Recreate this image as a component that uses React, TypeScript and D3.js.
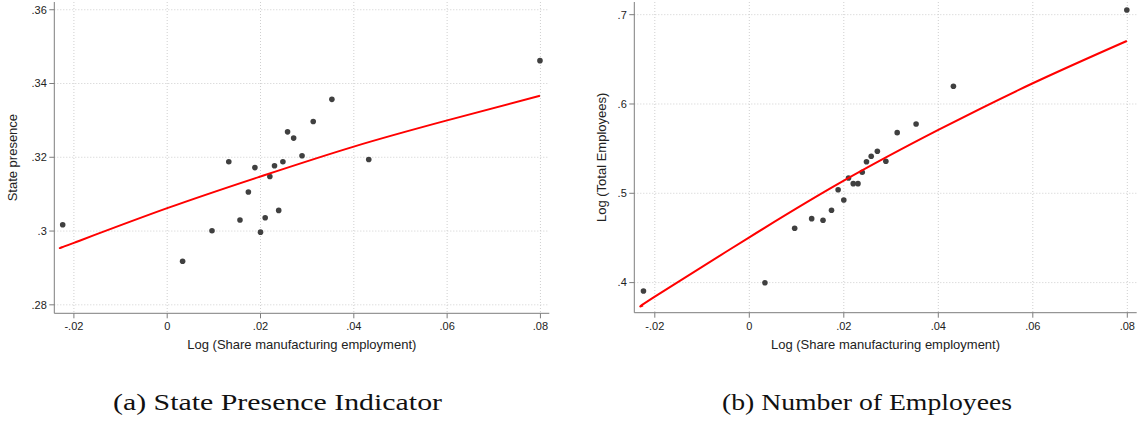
import React from "react";
import * as d3 from "d3";

// Shared x values: Log (Share manufacturing employment)
const shareMfg = [-0.0224, 0.0033, 0.0096, 0.0132, 0.0156, 0.0174, 0.0188, 0.02, 0.021, 0.022, 0.023, 0.0239, 0.0248, 0.0258, 0.0271, 0.0289, 0.0313, 0.0353, 0.0432, 0.0799];
// Panel (a): State presence
const statePresence = [0.3017, 0.2918, 0.3001, 0.3188, 0.303, 0.3106, 0.3172, 0.2997, 0.3036, 0.3148, 0.3177, 0.3056, 0.3188, 0.3269, 0.3252, 0.3204, 0.3297, 0.3357, 0.3194, 0.3462];
// Panel (b): Log (Total Employees)
const logEmployees = [0.3906, 0.3999, 0.4608, 0.4716, 0.4698, 0.481, 0.504, 0.4925, 0.5171, 0.5108, 0.5108, 0.5235, 0.5354, 0.5414, 0.547, 0.5358, 0.5679, 0.5776, 0.6198, 0.7053];

// Fitted curves
const fitXLeft = [-0.0224, -0.02, 0, 0.02, 0.04, 0.06, 0.0799];
const fitYLeft = [0.2957, 0.2968, 0.3062, 0.3148, 0.3229, 0.33, 0.3367];
const fitXRight = [-0.0225, -0.02, 0, 0.02, 0.04, 0.06, 0.0799];
const fitYRight = [0.3746, 0.3842, 0.4507, 0.5141, 0.5709, 0.6232, 0.6706];

const xTicks = [-0.02, 0, 0.02, 0.04, 0.06, 0.08];
const yTicksLeft = [0.28, 0.3, 0.32, 0.34, 0.36];
const yTicksRight = [0.4, 0.5, 0.6, 0.7];

const xTitle = "Log (Share manufacturing employment)";
const yTitleLeft = "State presence";
const yTitleRight = "Log (Total Employees)";
const captionLeft = "(a) State Presence Indicator";
const captionRight = "(b) Number of Employees";

const fmt = (v: number) => (v === 0 ? "0" : String(v).replace("0.", "."));

const AXIS = "#7d7d7d";
const GRID = "#cfcfcf";
const DOT = "#404040";
const SANS = "'Liberation Sans', Arial, Helvetica, sans-serif";

type PanelProps = {
  xDomain: [number, number];
  xRange: [number, number];
  yDomain: [number, number];
  yRange: [number, number];
  yTicks: number[];
  ys: number[];
  fitX: number[];
  fitY: number[];
  yTitle: string;
  yTitleX: number;
  caption: string;
  captionX: number;
  captionWidth: number;
};

function Panel(p: PanelProps) {
  const x = d3.scaleLinear().domain(p.xDomain).range(p.xRange);
  const y = d3.scaleLinear().domain(p.yDomain).range(p.yRange);
  const [x0, x1] = p.xRange;
  const [yb, yt] = p.yRange;
  const line = d3
    .line<number>()
    .x((_, i) => x(p.fitX[i]))
    .y((d) => y(d))
    .curve(d3.curveNatural);
  const midX = (x0 + x1) / 2;
  const midY = (yb + yt) / 2;
  return (
    <g>
      {/* grid */}
      {p.yTicks.map((t) => (
        <line key={"gy" + t} x1={x0} x2={x1} y1={y(t)} y2={y(t)} stroke={GRID} strokeWidth={1} strokeDasharray="1 2" />
      ))}
      {xTicks.map((t) => (
        <line key={"gx" + t} x1={x(t)} x2={x(t)} y1={yt} y2={yb} stroke={GRID} strokeWidth={1} strokeDasharray="1 2" />
      ))}
      {/* axes */}
      <line x1={x0} x2={x0} y1={yt} y2={yb} stroke={AXIS} strokeWidth={1} />
      <line x1={x0} x2={x1} y1={yb} y2={yb} stroke={AXIS} strokeWidth={1} />
      {p.yTicks.map((t) => (
        <g key={"ty" + t}>
          <line x1={x0 - 5} x2={x0} y1={y(t)} y2={y(t)} stroke={AXIS} strokeWidth={1} />
          <text x={x0 - 7.5} y={y(t)} dy="0.35em" textAnchor="end" fontFamily={SANS} fontSize={11} fill="#222">
            {fmt(t)}
          </text>
        </g>
      ))}
      {xTicks.map((t) => (
        <g key={"tx" + t}>
          <line x1={x(t)} x2={x(t)} y1={yb} y2={yb + 5} stroke={AXIS} strokeWidth={1} />
          <text x={x(t)} y={yb + 17} textAnchor="middle" fontFamily={SANS} fontSize={11} fill="#222">
            {fmt(t)}
          </text>
        </g>
      ))}
      {/* titles */}
      <text x={midX} y={349} textAnchor="middle" fontFamily={SANS} fontSize={13} fill="#222">
        {xTitle}
      </text>
      <text
        transform={`translate(${p.yTitleX},${midY}) rotate(-90)`}
        textAnchor="middle"
        fontFamily={SANS}
        fontSize={13}
        fill="#222"
      >
        {p.yTitle}
      </text>
      {/* points */}
      {shareMfg.map((v, i) => (
        <circle key={"p" + i} cx={x(v)} cy={y(p.ys[i])} r={2.8} fill={DOT} />
      ))}
      {/* fit */}
      <path d={line(p.fitY) || ""} fill="none" stroke="#ff0000" strokeWidth={2} />
      {/* caption */}
      <text
        x={p.captionX}
        y={410}
        textAnchor="middle"
        fontFamily="'Liberation Serif', 'Times New Roman', serif"
        fontSize={24}
        fill="#111"
        textLength={p.captionWidth}
        lengthAdjust="spacingAndGlyphs"
      >
        {p.caption}
      </text>
    </g>
  );
}

export default function App() {
  return (
    <svg
      width={1140}
      height={421}
      style={{ position: "absolute", left: 0, top: 0, background: "#fff" }}
    >
      <rect x={0} y={0} width={1140} height={421} fill="#fff" />
      <Panel
        xDomain={[-0.0242, 0.0819]}
        xRange={[54.3, 549.3]}
        yDomain={[0.2777, 0.3621]}
        yRange={[313.3, 2]}
        yTicks={yTicksLeft}
        ys={statePresence}
        fitX={fitXLeft}
        fitY={fitYLeft}
        yTitle={yTitleLeft}
        yTitleX={16.5}
        caption={captionLeft}
        captionX={277.5}
        captionWidth={329}
      />
      <Panel
        xDomain={[-0.02434, 0.08199]}
        xRange={[634.3, 1136.7]}
        yDomain={[0.3663, 0.7142]}
        yRange={[312.7, 2]}
        yTicks={yTicksRight}
        ys={logEmployees}
        fitX={fitXRight}
        fitY={fitYRight}
        yTitle={yTitleRight}
        yTitleX={605.5}
        caption={captionRight}
        captionX={867}
        captionWidth={290}
      />
    </svg>
  );
}
